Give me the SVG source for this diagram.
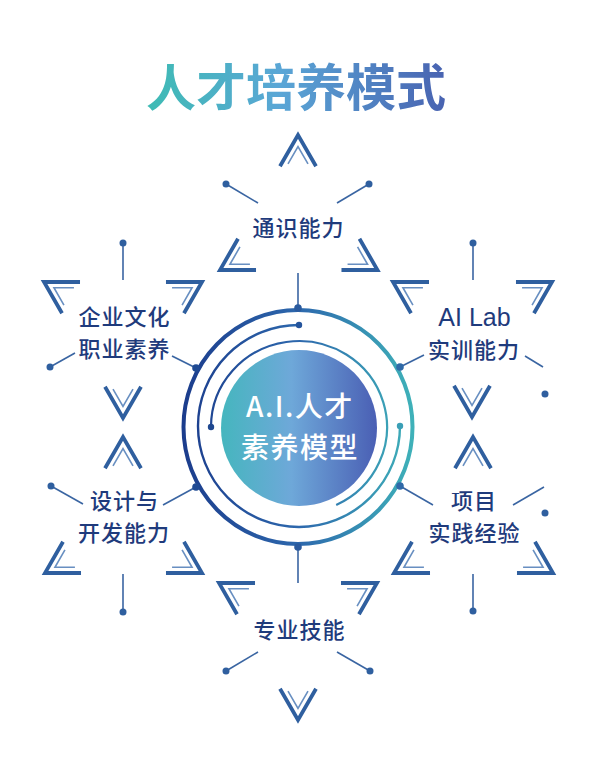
<svg xmlns="http://www.w3.org/2000/svg" xmlns:xlink="http://www.w3.org/1999/xlink" width="600" height="783" viewBox="0 0 600 783">
<defs>
<linearGradient id="gTitle" gradientUnits="userSpaceOnUse" x1="142" y1="0" x2="450" y2="0">
<stop offset="0" stop-color="#3dbcb3"/>
<stop offset="0.45" stop-color="#5aa6d6"/>
<stop offset="1" stop-color="#4861b0"/>
</linearGradient>
<linearGradient id="gRing" gradientUnits="userSpaceOnUse" x1="182" y1="0" x2="416" y2="0">
<stop offset="0" stop-color="#1b3c8c"/>
<stop offset="0.5" stop-color="#2d68ad"/>
<stop offset="1" stop-color="#3fb3b9"/>
</linearGradient>
<linearGradient id="gCore" gradientUnits="userSpaceOnUse" x1="221" y1="0" x2="377" y2="0">
<stop offset="0" stop-color="#45b6be"/>
<stop offset="0.45" stop-color="#6ea8d9"/>
<stop offset="1" stop-color="#4a5fb4"/>
</linearGradient>
<g id="chev">
<path d="M-18,31.2 L0,0 L18,31.2" fill="none" stroke="#2f5f9f" stroke-width="3.8" stroke-linejoin="miter" stroke-miterlimit="10"/>
<path d="M-10,28.8 L0,11.5 L10,28.8" fill="none" stroke="#4d7bb6" stroke-width="1.6" stroke-linejoin="miter" stroke-miterlimit="10" opacity="0.85"/>
</g>
</defs>
<style>
.lbl{font-family:"Noto Sans CJK SC","Liberation Sans",sans-serif;font-size:22px;letter-spacing:1px;font-weight:500;fill:#1f3b7c;text-anchor:middle}
.lat{font-family:"Liberation Sans","Noto Sans CJK SC",sans-serif;font-size:25px;letter-spacing:0;font-weight:400}
.con{stroke:#3a65a2;stroke-width:1.6;fill:none}
.dot{fill:#2f5f9f}
</style>
<rect width="600" height="783" fill="#ffffff"/>

<text x="296" y="106" font-family="Noto Sans CJK SC, sans-serif" font-size="50" font-weight="700" fill="url(#gTitle)" text-anchor="middle">人才培养模式</text>

<g id="connectors">
<line class="con" x1="258" y1="203" x2="226" y2="184"/><circle class="dot" cx="226" cy="184" r="3.5"/>
<line class="con" x1="337" y1="203" x2="369" y2="184"/><circle class="dot" cx="369" cy="184" r="3.5"/>
<line class="con" x1="298" y1="273" x2="298" y2="308"/>
<line class="con" x1="123" y1="280" x2="123" y2="243"/><circle class="dot" cx="123" cy="243" r="3.5"/>
<line class="con" x1="75" y1="353" x2="50" y2="367"/><circle class="dot" cx="50" cy="367" r="3.5"/>
<line class="con" x1="172" y1="356" x2="196" y2="368"/>
<line class="con" x1="473" y1="280" x2="473" y2="243"/><circle class="dot" cx="473" cy="243" r="3.5"/>
<line class="con" x1="424" y1="355" x2="400" y2="367"/>
<line class="con" x1="525" y1="356" x2="543" y2="367"/><circle class="dot" cx="545" cy="394" r="3.5"/>
<line class="con" x1="83" y1="504" x2="51" y2="486"/><circle class="dot" cx="51" cy="486" r="3.5"/>
<line class="con" x1="163" y1="505" x2="196" y2="487"/>
<line class="con" x1="123" y1="574" x2="123" y2="612"/><circle class="dot" cx="123" cy="612" r="3.5"/>
<line class="con" x1="433" y1="505" x2="400" y2="486"/>
<line class="con" x1="513" y1="505" x2="544" y2="487"/><circle class="dot" cx="545" cy="513" r="3.5"/>
<line class="con" x1="473" y1="574" x2="473" y2="611"/><circle class="dot" cx="473" cy="611" r="3.5"/>
<line class="con" x1="298" y1="547" x2="298" y2="583"/>
<line class="con" x1="258" y1="652" x2="226" y2="671"/><circle class="dot" cx="226" cy="671" r="3.5"/>
<line class="con" x1="337" y1="652" x2="370" y2="671"/><circle class="dot" cx="370" cy="671" r="3.5"/>
</g>

<g id="center">
<ellipse cx="298" cy="427" rx="114.5" ry="117" fill="none" stroke="url(#gRing)" stroke-width="4"/>
<path d="M299,325 A101,101 0 1 0 400,426" fill="none" stroke="url(#gRing)" stroke-width="2.4"/>
<circle cx="299" cy="325" r="3.2" fill="#24549c"/>
<circle cx="400" cy="426" r="3.2" fill="#3a9fb6"/>
<path d="M211,427 A88,86 0 1 1 336.2,505" fill="none" stroke="url(#gRing)" stroke-width="2.2"/>
<circle cx="211" cy="427" r="3.2" fill="#1e478f"/>
<circle cx="299" cy="428" r="78" fill="url(#gCore)"/>
<circle cx="298" cy="308" r="3.8" fill="#2a5a9e"/>
<circle cx="196" cy="368" r="3.8" fill="#1f4a93"/>
<circle cx="400" cy="367" r="3.8" fill="#2f69a8"/>
<circle cx="196" cy="487" r="3.8" fill="#1f4a93"/>
<circle cx="400" cy="486" r="3.8" fill="#2f69a8"/>
<circle cx="298" cy="547" r="3.8" fill="#2a5a9e"/>
<text font-family="Noto Sans CJK SC, sans-serif" font-size="28" letter-spacing="1.5" font-weight="500" fill="#ffffff" text-anchor="middle"><tspan x="300" y="416.5">A.I.人才</tspan><tspan x="300" y="457.5">素养模型</tspan></text>
</g>

<g id="node-top">
<use href="#chev" transform="translate(298,135)"/>
<use href="#chev" transform="translate(220,270) rotate(-120)"/>
<use href="#chev" transform="translate(377.5,270) rotate(120)"/>
<text class="lbl" x="298.5" y="235.5">通识能力</text>
</g>

<g id="node-upper-left">
<use href="#chev" transform="translate(44,282) rotate(-60)"/>
<use href="#chev" transform="translate(202,282) rotate(60)"/>
<use href="#chev" transform="translate(123,418) rotate(180)"/>
<text class="lbl"><tspan x="124.5" y="324.5">企业文化</tspan><tspan x="124.5" y="356.5">职业素养</tspan></text>
</g>

<g id="node-upper-right">
<use href="#chev" transform="translate(393,282) rotate(-60)"/>
<use href="#chev" transform="translate(552,282) rotate(60)"/>
<use href="#chev" transform="translate(472,417) rotate(180)"/>
<text class="lbl"><tspan class="lat" x="474.5" y="325.5">AI Lab</tspan><tspan x="474" y="357.5">实训能力</tspan></text>
</g>

<g id="node-lower-left">
<use href="#chev" transform="translate(123,437)"/>
<use href="#chev" transform="translate(45,573) rotate(-120)"/>
<use href="#chev" transform="translate(202,573) rotate(120)"/>
<text class="lbl"><tspan x="124.5" y="509">设计与</tspan><tspan x="124" y="541">开发能力</tspan></text>
</g>

<g id="node-lower-right">
<use href="#chev" transform="translate(473,437)"/>
<use href="#chev" transform="translate(394,573) rotate(-120)"/>
<use href="#chev" transform="translate(553,573) rotate(120)"/>
<text class="lbl"><tspan x="474" y="508.5">项目</tspan><tspan x="474.5" y="540.5">实践经验</tspan></text>
</g>

<g id="node-bottom">
<use href="#chev" transform="translate(219,583) rotate(-60)"/>
<use href="#chev" transform="translate(377,583) rotate(60)"/>
<use href="#chev" transform="translate(298,720) rotate(180)"/>
<text class="lbl" x="299.5" y="637.5">专业技能</text>
</g>
</svg>
